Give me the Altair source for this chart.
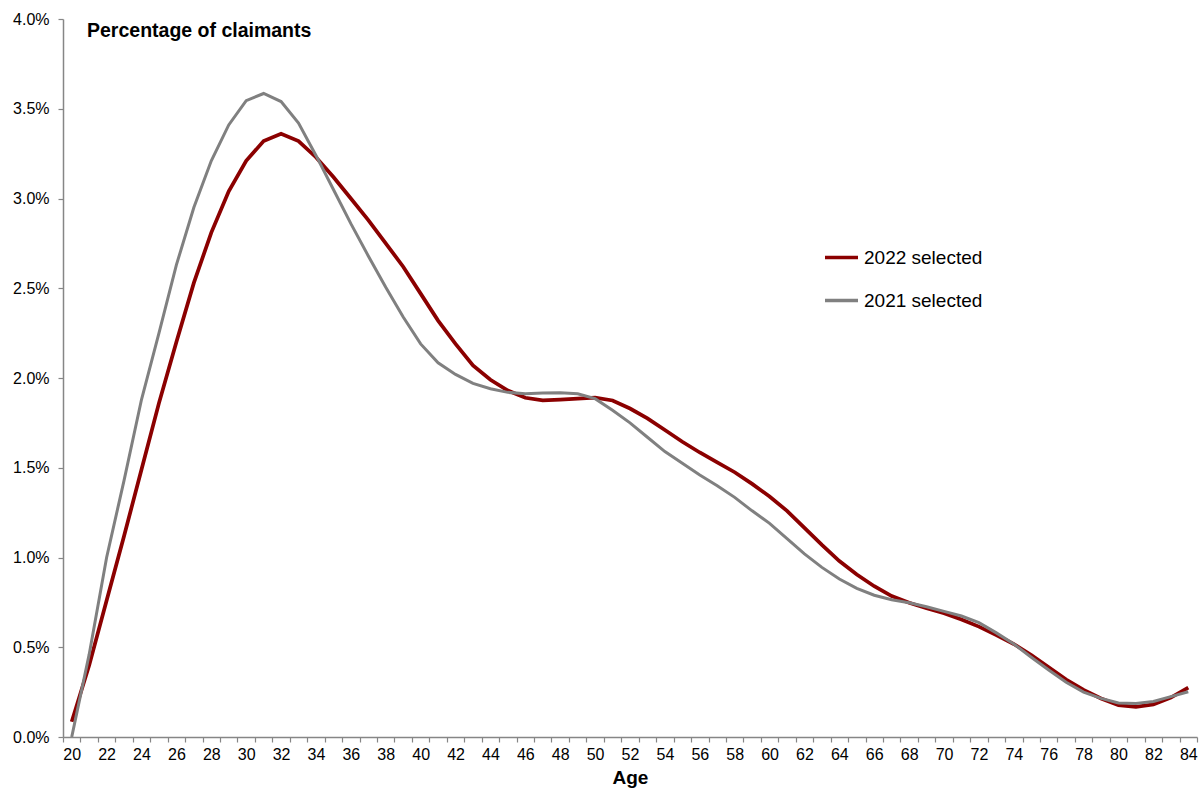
import altair as alt
import pandas as pd

# Share of claimants by age, in percent
ages = list(range(20, 85))

share_2022 = [
    0.085, 0.40, 0.76, 1.12, 1.49, 1.86, 2.20, 2.53, 2.81, 3.04,
    3.21, 3.32, 3.36, 3.32, 3.23, 3.12, 3.00, 2.88, 2.75, 2.62,
    2.47, 2.32, 2.19, 2.07, 1.99, 1.93, 1.89, 1.875, 1.88, 1.885,
    1.89, 1.875, 1.83, 1.775, 1.71, 1.645, 1.585, 1.53, 1.475, 1.41,
    1.34, 1.26, 1.165, 1.07, 0.98, 0.905, 0.84, 0.785, 0.748, 0.717,
    0.69, 0.655, 0.615, 0.568, 0.518, 0.457, 0.388, 0.32, 0.262, 0.215,
    0.178, 0.168, 0.182, 0.22, 0.275,
]

share_2021 = [
    0.00, 0.46, 1.00, 1.43, 1.88, 2.25, 2.63, 2.95, 3.21, 3.41,
    3.545, 3.585, 3.54, 3.42, 3.24, 3.05, 2.86, 2.68, 2.505, 2.34,
    2.19, 2.085, 2.02, 1.97, 1.94, 1.92, 1.912, 1.917, 1.918, 1.912,
    1.885, 1.82, 1.75, 1.67, 1.59, 1.525, 1.46, 1.40, 1.335, 1.26,
    1.19, 1.105, 1.02, 0.945, 0.88, 0.828, 0.79, 0.765, 0.748, 0.726,
    0.70, 0.674, 0.637, 0.58, 0.518, 0.444, 0.373, 0.305, 0.25, 0.215,
    0.19, 0.186, 0.198, 0.225, 0.252,
]

series_names = ["2022 selected", "2021 selected"]
series_colors = ["#8B0000", "#808080"]
y_ticks = [0.0, 0.5, 1.0, 1.5, 2.0, 2.5, 3.0, 3.5, 4.0]
chart_heading = "Percentage of claimants"

# Category boundaries: ticks sit between ages, labels at every second age
age_edges = [a - 0.5 for a in ages] + [ages[-1] + 0.5]

W, H = 1134, 718
FONT = "Liberation Sans"
AXIS_GREY = "#868686"

df = pd.DataFrame(
    {
        "Age": ages * 2,
        "Share": share_2022 + share_2021,
        "Series": [series_names[0]] * len(ages) + [series_names[1]] * len(ages),
    }
)

x_enc = alt.X(
    "Age:Q",
    scale=alt.Scale(domain=[age_edges[0], age_edges[-1]], nice=False, zero=False),
    axis=alt.Axis(
        title="Age",
        values=age_edges,
        labelExpr="(datum.value + 0.5) % 2 == 0 ? '' + (datum.value + 0.5) : ''",
        labelOffset=W / len(ages) / 2,
        labelOverlap=False,
        labelFlush=False,
        labelBound=False,
        grid=False,
        tickSize=5,
        labelPadding=4,
        titlePadding=6,
    ),
)

y_enc = alt.Y(
    "Share:Q",
    scale=alt.Scale(domain=[0, 4], nice=False),
    axis=alt.Axis(
        title=None,
        values=y_ticks,
        labelExpr="format(datum.value, '.1f') + '%'",
        grid=False,
        tickSize=5,
        labelPadding=9,
    ),
)

color_enc = alt.Color(
    "Series:N",
    scale=alt.Scale(domain=series_names, range=series_colors),
    legend=alt.Legend(
        title=None,
        orient="none",
        legendX=760,
        legendY=220,
        symbolType="stroke",
        symbolSize=1089,
        symbolStrokeWidth=3.5,
        labelFontSize=19,
        labelFont=FONT,
        labelColor="#000000",
        labelOffset=4,
        rowPadding=14,
    ),
)

base = alt.Chart(df).encode(x=x_enc, y=y_enc, color=color_enc)

line_2022 = base.transform_filter(
    alt.datum.Series == series_names[0]
).mark_line(strokeWidth=3.75)

line_2021 = base.transform_filter(
    alt.datum.Series == series_names[1]
).mark_line(strokeWidth=3)

heading = alt.Chart(pd.DataFrame({"t": [chart_heading]})).mark_text(
    align="left",
    baseline="alphabetic",
    font=FONT,
    fontSize=19.5,
    fontWeight="bold",
    color="#000000",
).encode(text="t:N", x=alt.value(24), y=alt.value(18))

chart = (
    alt.layer(line_2022, line_2021, heading)
    .properties(
        width=W,
        height=H,
        autosize=alt.AutoSizeParams(type="none"),
        padding={"left": 63, "top": 19, "right": 6, "bottom": 55},
        background="white",
    )
    .configure_view(stroke=None)
    .configure_axis(
        domainColor=AXIS_GREY,
        tickColor=AXIS_GREY,
        domainWidth=1.5,
        tickWidth=1.2,
        labelFont=FONT,
        labelFontSize=16,
        labelColor="#000000",
        titleFont=FONT,
        titleFontSize=19,
        titleFontWeight="bold",
        titleColor="#000000",
    )
)

chart.save("out.html", embed_options={"renderer": "svg", "actions": False})
